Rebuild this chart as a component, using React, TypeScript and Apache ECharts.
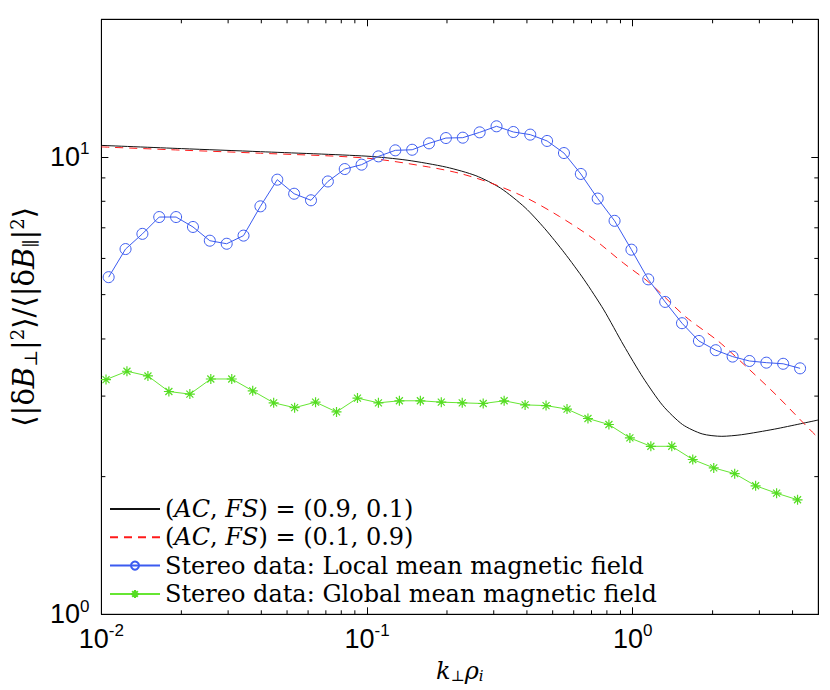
import React, { useEffect, useRef } from 'react';
import * as echarts from 'echarts';

// model curves
const blackX = [0.01, 0.02, 0.0397, 0.1, 0.1415, 0.199, 0.257, 0.3181, 0.3937, 0.467, 0.5538, 0.6568, 0.7789, 0.9238, 1.0955, 1.299, 1.541, 1.827, 2.167, 2.57, 3.415, 4.288, 5.0];
const blackY = [10.6, 10.43, 10.27, 10.04, 9.84, 9.5, 9.1, 8.55, 7.75, 6.97, 6.17, 5.39, 4.63, 3.88, 3.29, 2.86, 2.6, 2.48, 2.45, 2.47, 2.54, 2.61, 2.66];

const redX = [0.01, 0.02, 0.0397, 0.1, 0.1703, 0.2262, 0.3005, 0.3996, 0.5305, 0.7049, 0.9238, 1.16, 1.585, 2.107, 2.721, 3.464, 4.54, 5.0];
const redY = [10.52, 10.35, 10.19, 9.94, 9.51, 9.19, 8.72, 8.13, 7.41, 6.65, 5.86, 5.3, 4.47, 3.95, 3.45, 3.02, 2.57, 2.43];

// Stereo data, local mean field
const localX = [0.01065, 0.01233, 0.01427, 0.01651, 0.01911, 0.02212, 0.0256, 0.02963, 0.03429, 0.03969, 0.04594, 0.05317, 0.06154, 0.07123, 0.08244, 0.09542, 0.1104, 0.1278, 0.1479, 0.1712, 0.1982, 0.2294, 0.2655, 0.3073, 0.3556, 0.4116, 0.4764, 0.5514, 0.6382, 0.7387, 0.855, 0.9896, 1.145, 1.326, 1.534, 1.776, 2.055, 2.379, 2.753, 3.187, 3.688, 4.269];
const localY = [5.46, 6.29, 6.79, 7.39, 7.39, 7.03, 6.56, 6.46, 6.73, 7.8, 8.92, 8.31, 8.04, 8.84, 9.41, 9.62, 10.03, 10.34, 10.37, 10.71, 11.0, 11.02, 11.32, 11.67, 11.34, 11.19, 10.84, 10.2, 9.18, 8.11, 7.25, 6.27, 5.4, 4.82, 4.33, 3.96, 3.78, 3.66, 3.58, 3.55, 3.53, 3.45];

// Stereo data, global mean field
const globalX = [0.01041, 0.01248, 0.01497, 0.01795, 0.02153, 0.02582, 0.03096, 0.03713, 0.04452, 0.05339, 0.06402, 0.07677, 0.09206, 0.1104, 0.1324, 0.1588, 0.1904, 0.2283, 0.2738, 0.3283, 0.3937, 0.4721, 0.5662, 0.6789, 0.8141, 0.9765, 1.171, 1.404, 1.684, 2.02, 2.422, 2.904, 3.483, 4.177];
const globalY = [3.26, 3.4, 3.32, 3.07, 3.03, 3.27, 3.27, 3.08, 2.9, 2.83, 2.91, 2.77, 2.97, 2.9, 2.93, 2.93, 2.91, 2.9, 2.89, 2.93, 2.87, 2.86, 2.81, 2.68, 2.6, 2.43, 2.33, 2.33, 2.18, 2.09, 2.03, 1.91, 1.84, 1.78];

const seriesNames = [
  '(AC, FS) = (0.9, 0.1)',
  '(AC, FS) = (0.1, 0.9)',
  'Stereo data: Local mean magnetic field',
  'Stereo data: Global mean magnetic field',
];

const xMinorTicks = [0.02, 0.03, 0.04, 0.05, 0.06, 0.07, 0.08, 0.09, 0.2, 0.3, 0.4, 0.5, 0.6, 0.7, 0.8, 0.9, 2, 3, 4];
const yMinorTicks = [2, 3, 4, 5, 6, 7, 8, 9];

const SANS = 'Liberation Sans';
const SERIF = 'DejaVu Serif';
const STAR = 'path://M0,-10L0,10M-10,0L10,0M-7,-7L7,7M-7,7L7,-7';
const BLUE = '#3b5bf0';
const GREEN = '#66e633';

const pairs = (xs: number[], ys: number[]) => xs.map((x, i) => [x, ys[i]]);

const powLabel = (v: number) => {
  const l = Math.log10(v);
  const e = Math.round(l);
  if (Math.abs(l - e) > 1e-6) return '';
  return '{b|10}{s|' + e + '}';
};

const labelRich = {
  b: { fontSize: 27, fontFamily: SANS, color: '#000' },
  s: { fontSize: 17, fontFamily: SANS, color: '#000', padding: [0, 0, 16, 0] },
};

const App: React.FC = () => {
  const chartRef = useRef<HTMLDivElement>(null);

  useEffect(() => {
    document.body.style.margin = '0';
    if (!chartRef.current) return;
    const chart = echarts.init(chartRef.current, undefined, { renderer: 'svg' });

    const baseX = {
      type: 'log' as const,
      logBase: 10,
      min: 0.01,
      max: 5,
      splitLine: { show: false },
      axisLine: { lineStyle: { color: '#000', width: 1 } },
      axisTick: { inside: true, length: 7, lineStyle: { color: '#000' } },
    };
    const baseY = {
      type: 'log' as const,
      logBase: 10,
      min: 1,
      max: 20,
      splitLine: { show: false },
      axisLine: { lineStyle: { color: '#000', width: 1 } },
      axisTick: { inside: true, length: 7, lineStyle: { color: '#000' } },
    };

    const option: any = {
      animation: false,
      backgroundColor: '#fff',
      grid: {
        left: 89.3,
        right: 11.7,
        top: 19.3,
        bottom: 75.7,
        show: true,
        borderColor: '#000',
        borderWidth: 1,
      },
      xAxis: [
        {
          ...baseX,
          position: 'bottom',
          axisLabel: { formatter: powLabel, margin: 8, rich: labelRich },
          name: '{i|k}{sub|⊥}{i|ρ}{subi|i}',
          nameLocation: 'middle',
          nameGap: 44,
          nameTextStyle: {
            fontFamily: SERIF,
            fontSize: 24,
            color: '#000',
            rich: {
              i: { fontFamily: SERIF, fontStyle: 'italic', fontSize: 24, color: '#000' },
              sub: { fontFamily: SERIF, fontSize: 15, color: '#000', padding: [10, 0, 0, 0] },
              subi: { fontFamily: SERIF, fontStyle: 'italic', fontSize: 15, color: '#000', padding: [10, 0, 0, 0] },
            },
          },
        },
        { ...baseX, position: 'top', axisLabel: { show: false } },
      ],
      yAxis: [
        {
          ...baseY,
          position: 'left',
          axisLabel: { formatter: powLabel, margin: 12, rich: labelRich },
          name: '⟨|δ{i|B}{sub|⊥}|{sup|2}⟩/⟨|δ{i|B}{sub|∥}|{sup|2}⟩',
          nameLocation: 'middle',
          nameGap: 56,
          nameTextStyle: {
            fontFamily: SERIF,
            fontSize: 29,
            color: '#000',
            rich: {
              i: { fontFamily: SERIF, fontStyle: 'italic', fontSize: 29, color: '#000' },
              sub: { fontFamily: SERIF, fontSize: 18, color: '#000', padding: [12, 0, 0, 0] },
              sup: { fontFamily: SERIF, fontSize: 18, color: '#000', padding: [0, 0, 14, 0] },
            },
          },
        },
        { ...baseY, position: 'right', axisLabel: { show: false } },
      ],
      legend: {
        orient: 'vertical',
        left: 104,
        top: 492,
        itemWidth: 50,
        itemHeight: 10,
        itemGap: 4.3,
        data: [
          { name: seriesNames[0], itemStyle: { opacity: 0 } },
          { name: seriesNames[1], itemStyle: { opacity: 0 } },
          { name: seriesNames[2] },
          { name: seriesNames[3] },
        ],
        formatter: (name: string) =>
          name.startsWith('(AC') ? name.replace('AC', '{i|AC}').replace('FS', '{i|FS}') : name,
        textStyle: {
          fontFamily: SERIF,
          fontSize: 24,
          color: '#000',
          rich: { i: { fontFamily: SERIF, fontStyle: 'italic', fontSize: 24, color: '#000' } },
        },
      },
      series: [
        {
          name: seriesNames[0],
          type: 'line',
          data: pairs(blackX, blackY),
          smooth: 0.25,
          symbol: 'none',
          lineStyle: { color: '#111', width: 1 },
          itemStyle: { color: '#111' },
        },
        {
          name: seriesNames[1],
          type: 'line',
          data: pairs(redX, redY),
          smooth: 0.3,
          symbol: 'none',
          lineStyle: { color: '#ff1a1a', width: 1, type: [8, 6] },
          itemStyle: { color: '#ff1a1a' },
        },
        {
          name: seriesNames[2],
          type: 'line',
          data: pairs(localX, localY),
          symbol: 'circle',
          symbolSize: 11,
          lineStyle: { color: BLUE, width: 1 },
          itemStyle: { color: 'rgba(0,0,0,0)', borderColor: BLUE, borderWidth: 1 },
        },
        {
          name: seriesNames[3],
          type: 'line',
          data: pairs(globalX, globalY),
          symbol: STAR,
          symbolSize: 10,
          lineStyle: { color: GREEN, width: 1 },
          itemStyle: { color: GREEN, borderColor: '#55dd22', borderWidth: 1.2 },
        },
        {
          type: 'custom',
          silent: true,
          data: xMinorTicks.map((v) => [v, 1]),
          renderItem: (params: any, api: any) => {
            const cs = params.coordSys;
            const p = api.coord([api.value(0), 1]);
            const st = { stroke: '#000', lineWidth: 1 };
            return {
              type: 'group',
              children: [
                { type: 'line', shape: { x1: p[0], y1: cs.y + cs.height, x2: p[0], y2: cs.y + cs.height - 4 }, style: st },
                { type: 'line', shape: { x1: p[0], y1: cs.y, x2: p[0], y2: cs.y + 4 }, style: st },
              ],
            };
          },
        },
        {
          type: 'custom',
          silent: true,
          data: yMinorTicks.map((v) => [0.01, v]),
          renderItem: (params: any, api: any) => {
            const cs = params.coordSys;
            const p = api.coord([0.01, api.value(1)]);
            const st = { stroke: '#000', lineWidth: 1 };
            return {
              type: 'group',
              children: [
                { type: 'line', shape: { x1: cs.x, y1: p[1], x2: cs.x + 4, y2: p[1] }, style: st },
                { type: 'line', shape: { x1: cs.x + cs.width, y1: p[1], x2: cs.x + cs.width - 4, y2: p[1] }, style: st },
              ],
            };
          },
        },
      ],
    };

    chart.setOption(option);
    return () => {
      chart.dispose();
    };
  }, []);

  return <div ref={chartRef} style={{ width: '830px', height: '690px' }} />;
};

export default App;
